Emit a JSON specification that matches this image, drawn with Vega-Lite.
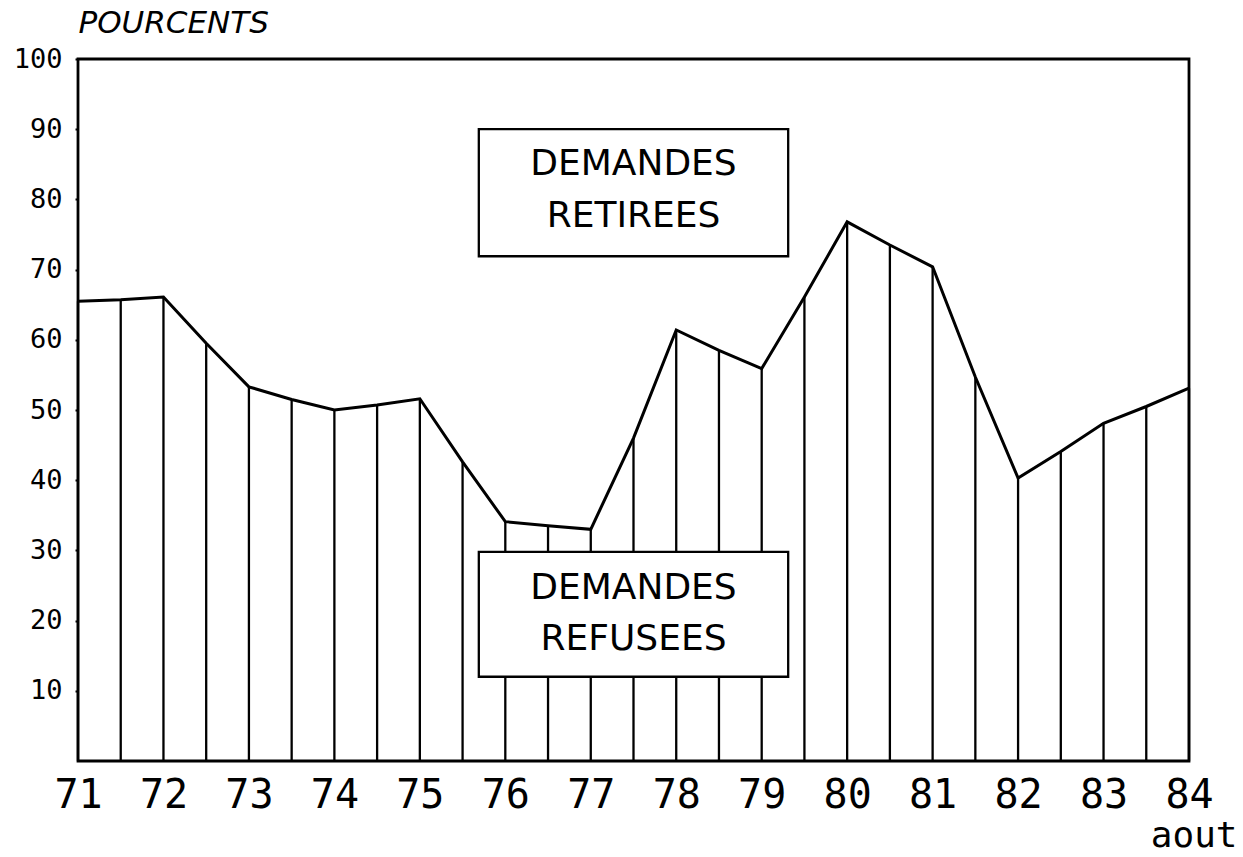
{
  "$schema": "https://vega.github.io/schema/vega-lite/v6.json",
  "width": 1111,
  "height": 702,
  "autosize": {"type": "none"},
  "padding": {"left": 78, "top": 59, "right": 54, "bottom": 96},
  "background": "white",
  "config": {
    "view": {"stroke": "black", "strokeWidth": 2.8},
    "axis": {"grid": false, "domain": false}
  },
  "datasets": {
    "series": [
      {"t": 71, "v": 65.5}, {"t": 71.5, "v": 65.7}, {"t": 72, "v": 66.1},
      {"t": 72.5, "v": 59.5}, {"t": 73, "v": 53.3}, {"t": 73.5, "v": 51.5},
      {"t": 74, "v": 50.0}, {"t": 74.5, "v": 50.7}, {"t": 75, "v": 51.6},
      {"t": 75.5, "v": 42.6}, {"t": 76, "v": 34.1}, {"t": 76.5, "v": 33.5},
      {"t": 77, "v": 33.0}, {"t": 77.5, "v": 46.0}, {"t": 78, "v": 61.4},
      {"t": 78.5, "v": 58.5}, {"t": 79, "v": 55.9}, {"t": 79.5, "v": 66.1},
      {"t": 80, "v": 76.8}, {"t": 80.5, "v": 73.5}, {"t": 81, "v": 70.4},
      {"t": 81.5, "v": 54.7}, {"t": 82, "v": 40.3}, {"t": 82.5, "v": 44.1},
      {"t": 83, "v": 48.1}, {"t": 83.5, "v": 50.5}, {"t": 84, "v": 53.1}
    ],
    "boxes": [
      {"x1": 75.69, "x2": 79.31, "y1": 71.9, "y2": 90.0},
      {"x1": 75.69, "x2": 79.31, "y1": 12.0, "y2": 29.8}
    ],
    "labels": [
      {"tx": 77.5, "ty": 85.0, "label": "DEMANDES"},
      {"tx": 77.5, "ty": 77.6, "label": "RETIREES"},
      {"tx": 77.5, "ty": 24.7, "label": "DEMANDES"},
      {"tx": 77.5, "ty": 17.4, "label": "REFUSEES"}
    ]
  },
  "layer": [
    {
      "data": {"name": "series"},
      "mark": {"type": "rule", "color": "black", "strokeWidth": 2.3},
      "encoding": {
        "x": {
          "field": "t", "type": "quantitative",
          "scale": {"domain": [71, 84], "nice": false, "zero": false},
          "axis": {
            "values": [71, 72, 73, 74, 75, 76, 77, 78, 79, 80, 81, 82, 83, 84],
            "format": "d",
            "ticks": false,
            "labelFlush": false,
            "labelOverlap": false,
            "labelFont": "DejaVu Sans Mono",
            "labelFontSize": 40,
            "labelColor": "black",
            "labelPadding": 14,
            "title": "aout",
            "titleX": 1159,
            "titleY": 85,
            "titleAlign": "right",
            "titleBaseline": "alphabetic",
            "titleFont": "DejaVu Sans Mono",
            "titleFontSize": 36,
            "titleFontWeight": "normal",
            "titleColor": "black"
          }
        },
        "y": {
          "field": "v", "type": "quantitative",
          "scale": {"domain": [0, 100], "nice": false},
          "axis": {
            "values": [10, 20, 30, 40, 50, 60, 70, 80, 90, 100],
            "tickSize": 3,
            "tickWidth": 2,
            "tickColor": "black",
            "labelFont": "DejaVu Sans Mono",
            "labelFontSize": 27,
            "labelColor": "black",
            "labelPadding": 13,
            "title": "POURCENTS",
            "titleAngle": 0,
            "titleAlign": "left",
            "titleBaseline": "bottom",
            "titleX": 0,
            "titleY": -20,
            "titleFont": "DejaVu Sans",
            "titleFontStyle": "italic",
            "titleFontWeight": "normal",
            "titleFontSize": 31,
            "titleColor": "black"
          }
        },
        "y2": {"datum": 0}
      }
    },
    {
      "data": {"name": "series"},
      "mark": {"type": "line", "color": "black", "strokeWidth": 3},
      "encoding": {
        "x": {"field": "t", "type": "quantitative"},
        "y": {"field": "v", "type": "quantitative"}
      }
    },
    {
      "data": {"name": "boxes"},
      "mark": {"type": "rect", "fill": "white", "stroke": "black", "strokeWidth": 2.3},
      "encoding": {
        "x": {"field": "x1", "type": "quantitative"},
        "x2": {"field": "x2"},
        "y": {"field": "y1", "type": "quantitative"},
        "y2": {"field": "y2"}
      }
    },
    {
      "data": {"name": "labels"},
      "mark": {"type": "text", "font": "DejaVu Sans", "fontSize": 36, "color": "black", "align": "center", "baseline": "middle"},
      "encoding": {
        "x": {"field": "tx", "type": "quantitative"},
        "y": {"field": "ty", "type": "quantitative"},
        "text": {"field": "label"}
      }
    }
  ]
}
